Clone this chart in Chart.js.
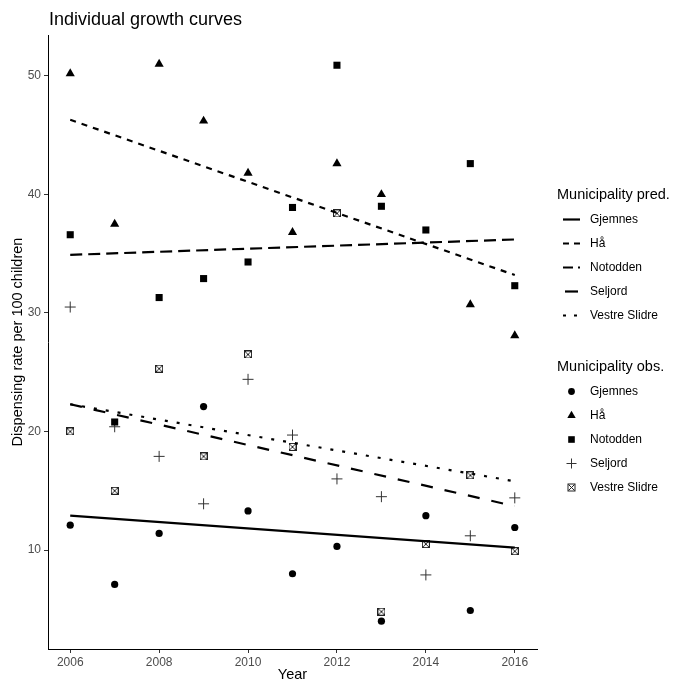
<!DOCTYPE html>
<html>
<head>
<meta charset="utf-8">
<script src="https://cdn.jsdelivr.net/npm/chart.js@4"></script>
<style>
  html, body { margin: 0; padding: 0; background: #fff; }
  #wrap { position: relative; width: 677px; height: 685px; font-family: "Liberation Sans", Arial, sans-serif; color: #000; }
  #chart { position: absolute; left: 0; top: 0; }
  #title { position: absolute; left: 49px; top: 10px; font-size: 18px; line-height: 18px; white-space: nowrap; }
  .lg { position: absolute; left: 557px; }
  .lg .t { font-size: 14.5px; height: 25px; line-height: 25px; white-space: nowrap; }
  .lg .r { display: flex; align-items: center; height: 24px; font-size: 12px; white-space: nowrap; }
  .lg svg { margin-left: 6px; margin-right: 10px; flex: none; }
</style>
</head>
<body>
<div id="wrap">
  <canvas id="chart" width="677" height="685"></canvas>
  <div id="title">Individual growth curves</div>
  <div class="lg" id="lgPred" style="top:182px"><div class="t">Municipality pred.</div></div>
  <div class="lg" id="lgObs" style="top:354px"><div class="t">Municipality obs.</div></div>
</div>
<script>
// Municipalities and observation years
const municipalities = ['Gjemnes', 'Hå', 'Notodden', 'Seljord', 'Vestre Slidre'];
const years = [2006, 2007, 2008, 2009, 2010, 2011, 2012, 2013, 2014, 2015, 2016];

// Observed dispensing rate per 100 children
const gjemnesObs  = [12.1, 7.1, 11.4, 22.1, 13.3, 8.0, 10.3, 4.0, 12.9, 4.9, 11.9];
const haObs       = [50.2, 37.5, 51.0, 46.2, 41.8, 36.8, 42.6, 40.0, null, 30.7, 28.1];
const notoddenObs = [36.6, 20.8, 31.3, 32.9, 34.3, 38.9, 50.9, 39.0, 37.0, 42.6, 32.3];
const seljordObs  = [30.5, 20.4, 17.9, 13.9, 24.4, 19.7, 16.0, 14.5, 7.9, 11.2, 14.4];
const vestreObs   = [20.0, 15.0, 25.3, 17.9, 26.5, 18.7, 38.4, 4.8, 10.5, 16.3, 9.9];

// Predicted linear growth curves (start and end of the period)
const predYears    = [2006, 2016];
const gjemnesPred  = [12.9, 10.2];
const haPred       = [46.3, 33.2];
const notoddenPred = [34.9, 36.2];
const seljordPred  = [22.3, 13.7];
const vestrePred   = [22.3, 15.8];

// Axis ticks
const xTicks = [2006, 2008, 2010, 2012, 2014, 2016];
const yTicks = [10, 20, 30, 40, 50];

const obsSeries  = [gjemnesObs, haObs, notoddenObs, seljordObs, vestreObs];
const predSeries = [gjemnesPred, haPred, notoddenPred, seljordPred, vestrePred];

// Line patterns per municipality (plot and legend keys)
const dashes    = [[], [6, 6], [12, 6], [12, 12], [3, 9]];
const keyDashes = [[], [6, 5], [10, 5], [], [3, 8]];
const keyLength = [17, 17, 17, 13, 17];

// Square with a cross inside
function boxCross() {
  const c = document.createElement('canvas');
  c.width = 8; c.height = 8;
  const g = c.getContext('2d');
  g.strokeStyle = '#222'; g.lineWidth = 1;
  g.strokeRect(0.5, 0.5, 7, 7);
  g.beginPath();
  g.moveTo(1, 1); g.lineTo(7, 7);
  g.moveTo(7, 1); g.lineTo(1, 7);
  g.stroke();
  return c;
}

const markers = [
  { pointStyle: 'circle',   pointRadius: 3.6, backgroundColor: '#000', borderColor: '#000', borderWidth: 0 },
  { pointStyle: 'triangle', pointRadius: 5.3, backgroundColor: '#000', borderColor: '#000', borderWidth: 0 },
  { pointStyle: 'rect',     pointRadius: 5,   backgroundColor: '#000', borderColor: '#000', borderWidth: 0 },
  { pointStyle: 'cross',    pointRadius: 5.5, backgroundColor: '#333', borderColor: '#333', borderWidth: 1 },
  { pointStyle: boxCross(), pointRadius: 4,   backgroundColor: '#222', borderColor: '#222', borderWidth: 1 }
];

const datasets = [];
predSeries.forEach((vals, i) => {
  datasets.push({
    label: municipalities[i] + ' pred.',
    data: predYears.map((x, k) => ({ x, y: vals[k] })),
    showLine: true,
    borderColor: '#000',
    borderWidth: 2.2,
    borderDash: dashes[i],
    borderCapStyle: 'butt',
    pointRadius: 0,
    order: 0
  });
});
obsSeries.forEach((vals, i) => {
  datasets.push(Object.assign({
    label: municipalities[i] + ' obs.',
    data: years.map((x, k) => ({ x, y: vals[k] })).filter(p => p.y !== null),
    showLine: false,
    order: 1
  }, markers[i]));
});

Chart.defaults.font.family = '"Liberation Sans", Arial, sans-serif';

new Chart(document.getElementById('chart'), {
  type: 'scatter',
  data: { datasets },
  options: {
    responsive: false,
    animation: false,
    events: [],
    layout: { padding: { top: 35, right: 140, left: 0, bottom: 0 } },
    plugins: { legend: { display: false }, tooltip: { enabled: false } },
    scales: {
      x: {
        type: 'linear',
        min: 2005.5, max: 2016.5,
        afterBuildTicks: s => { s.ticks = xTicks.map(v => ({ value: v })); },
        afterFit: s => { s.height = 36; },
        ticks: { font: { size: 12 }, color: '#4d4d4d', padding: 2, maxRotation: 0, callback: v => String(v) },
        grid: { drawOnChartArea: false, drawTicks: true, tickLength: 4, color: '#333' },
        border: { display: true, color: '#000', width: 1 },
        title: { display: true, text: 'Year', font: { size: 14.5 }, color: '#000', padding: { top: 0, bottom: 1 } }
      },
      y: {
        min: 1.65, max: 53.45,
        afterBuildTicks: s => { s.ticks = yTicks.map(v => ({ value: v })); },
        afterFit: s => { s.width = 48; },
        ticks: { font: { size: 12 }, color: '#4d4d4d', padding: 3 },
        grid: { drawOnChartArea: false, drawTicks: true, tickLength: 4, color: '#333' },
        border: { display: true, color: '#000', width: 1 },
        title: { display: true, text: 'Dispensing rate per 100 children', font: { size: 14.5 }, color: '#000', padding: { top: 9, bottom: 0 } }
      }
    }
  }
});

// Legend entries
const NS = 'http://www.w3.org/2000/svg';
function svgEl(tag, attrs) {
  const e = document.createElementNS(NS, tag);
  for (const k in attrs) e.setAttribute(k, attrs[k]);
  return e;
}
function lineIcon(i) {
  const s = svgEl('svg', { width: 17, height: 17 });
  const x0 = (17 - keyLength[i]) / 2;
  const l = svgEl('line', { x1: x0, y1: 8.5, x2: x0 + keyLength[i], y2: 8.5, stroke: '#000', 'stroke-width': 2.2 });
  if (keyDashes[i].length) l.setAttribute('stroke-dasharray', keyDashes[i].join(' '));
  s.appendChild(l);
  return s;
}
function markIcon(i) {
  const s = svgEl('svg', { width: 17, height: 17 });
  const c = 8.5;
  if (i === 0) s.appendChild(svgEl('circle', { cx: c, cy: c, r: 3.4, fill: '#000' }));
  if (i === 1) s.appendChild(svgEl('polygon', { points: `${c},${c - 4.8} ${c + 4.2},${c + 2.4} ${c - 4.2},${c + 2.4}`, fill: '#000' }));
  if (i === 2) s.appendChild(svgEl('rect', { x: c - 3.3, y: c - 3.3, width: 6.6, height: 6.6, fill: '#000' }));
  if (i === 3) s.appendChild(svgEl('path', { d: `M${c - 5},${c}H${c + 5}M${c},${c - 5}V${c + 5}`, stroke: '#333', 'stroke-width': 1, fill: 'none' }));
  if (i === 4) {
    s.appendChild(svgEl('rect', { x: c - 3.5, y: c - 3.5, width: 7, height: 7, stroke: '#222', 'stroke-width': 1, fill: 'none' }));
    s.appendChild(svgEl('path', { d: `M${c - 3},${c - 3}L${c + 3},${c + 3}M${c + 3},${c - 3}L${c - 3},${c + 3}`, stroke: '#222', 'stroke-width': 1 }));
  }
  return s;
}
function buildLegend(id, iconFn) {
  const box = document.getElementById(id);
  municipalities.forEach((m, i) => {
    const r = document.createElement('div');
    r.className = 'r';
    r.appendChild(iconFn(i));
    const t = document.createElement('span');
    t.textContent = m;
    r.appendChild(t);
    box.appendChild(r);
  });
}
buildLegend('lgPred', lineIcon);
buildLegend('lgObs', markIcon);
</script>
</body>
</html>
